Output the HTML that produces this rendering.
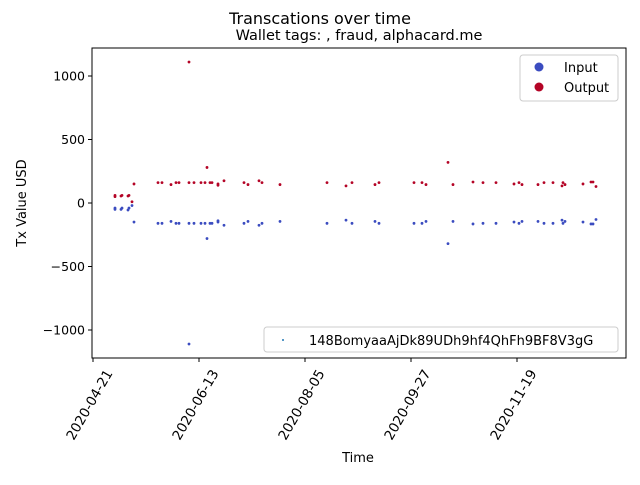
<!DOCTYPE html>
<html><head><meta charset="utf-8"><style>
body{margin:0;background:#fff;}
svg text{font-family:"DejaVu Sans","Liberation Sans",sans-serif;fill:#000;}
</style></head><body>
<svg id="c" width="640" height="480" viewBox="0 0 640 480" xmlns="http://www.w3.org/2000/svg">
<rect width="640" height="480" fill="#fff"/>
<text x="320" y="24" text-anchor="middle" font-size="16">Transcations over time</text>
<text x="359" y="40" text-anchor="middle" font-size="14.5">Wallet tags: , fraud, alphacard.me</text>
<rect x="92" y="48" width="534" height="310" fill="none" stroke="#000" stroke-width="1"/>
<g id="axes"></g>
<g id="marks"></g>
<text x="26" y="203" transform="rotate(-90 26 203)" text-anchor="middle" font-size="13">Tx Value USD</text>
<text x="358" y="462" text-anchor="middle" font-size="13">Time</text>
<g>
<rect x="520" y="55" width="98" height="46" rx="3" fill="#fff" stroke="#ccc"/>
<circle cx="539" cy="67" r="4.5" fill="#3b4cc0"/>
<text x="564" y="72" font-size="13">Input</text>
<circle cx="539" cy="87" r="4.5" fill="#b40426"/>
<text x="564" y="92" font-size="13">Output</text>
</g>
<g>
<rect x="264" y="327" width="354" height="25" rx="3" fill="#fff" stroke="#ccc"/>
<circle cx="283" cy="340" r="1" fill="#1f77b4"/>
<text x="309" y="345" font-size="13">148BomyaaAjDk89UDh9hf4QhFh9BF8V3gG</text>
</g>
</svg>
<script>
// days since 2020-04-21
const outDays=[11,11,14,14.5,17.5,18,19.5,20.5,32.5,34.5,39,41.5,43,48,48,50.5,54,56,57,58.5,59.5,62.5,62.5,65.5,75.5,77.5,83,84.5,93.5,117,126.5,129.5,141,143,160.5,164.5,166.5,177.5,180,190,195,201.5,210.5,213,214.5,222.5,225.5,230,234.5,235,236,245,249,250,251.5];
const outVals=[50,60,55,60,55,60,10,150,160,160,145,160,160,160,1110,160,160,160,280,160,160,140,150,175,160,145,175,160,145,160,135,160,145,160,160,160,145,320,145,165,160,160,150,160,145,145,160,160,135,160,145,150,165,165,130];
const inDays=[11,11,14,14.5,17.5,18,19.5,20.5,32.5,34.5,39,41.5,43,48,48,50.5,54,56,57,58.5,59.5,62.5,62.5,65.5,75.5,77.5,83,84.5,93.5,117,126.5,129.5,141,143,160.5,164.5,166.5,177.5,180,190,195,201.5,210.5,213,214.5,222.5,225.5,230,234.5,235,236,245,249,250,251.5];
const inVals=[-50,-40,-50,-40,-55,-40,-20,-150,-160,-160,-145,-160,-160,-160,-1110,-160,-160,-160,-280,-160,-160,-140,-150,-175,-160,-145,-175,-160,-145,-160,-135,-160,-145,-160,-160,-160,-145,-320,-145,-165,-160,-160,-150,-160,-145,-145,-160,-160,-135,-160,-145,-150,-165,-165,-130];
const yTicks=[-1000,-500,0,500,1000];
const xTickDays=[0,53,106,159,212];
const xTickLabels=["2020-04-21","2020-06-13","2020-08-05","2020-09-27","2020-11-19"];
const NS="http://www.w3.org/2000/svg";
function xs(d){return 93+2*d;}
function ys(v){return 203-v*0.127;}
const axes=document.getElementById('axes'),marks=document.getElementById('marks');
yTicks.forEach(t=>{
 const l=document.createElementNS(NS,'line');
 l.setAttribute('x1',88);l.setAttribute('x2',92);l.setAttribute('y1',ys(t));l.setAttribute('y2',ys(t));l.setAttribute('stroke','#000');
 
 
 axes.appendChild(l);
 const tx=document.createElementNS(NS,'text');
 tx.setAttribute('x',85);tx.setAttribute('y',ys(t)+4.5);tx.setAttribute('text-anchor','end');tx.setAttribute('font-size','12.5');
 tx.textContent=(t<0?'\u2212'+(-t):t);
 
 
 axes.appendChild(tx);
});
xTickDays.forEach((d,i)=>{
 const x=xs(d);
 const ax=x+20, ay=373;
 const l=document.createElementNS(NS,'line');
 l.setAttribute('x1',x);l.setAttribute('x2',x);l.setAttribute('y1',358);l.setAttribute('y2',362);l.setAttribute('stroke','#000');
 
 
 axes.appendChild(l);
 const tx=document.createElementNS(NS,'text');
 tx.setAttribute('x',ax);tx.setAttribute('y',ay);tx.setAttribute('text-anchor','end');tx.setAttribute('font-size','13.5');
 tx.setAttribute('transform','rotate(-60 '+ax+' '+ay+')');
 tx.textContent=xTickLabels[i];
 
 
 axes.appendChild(tx);
});
function pts(days,vals,col,name){
 days.forEach((d,i)=>{
  const c=document.createElementNS(NS,'circle');
  c.setAttribute('cx',xs(d));c.setAttribute('cy',ys(vals[i]));c.setAttribute('r',1.4);c.setAttribute('fill',col);
  
  
  marks.appendChild(c);
 });
}
pts(inDays,inVals,'#3b4cc0','input-point');
pts(outDays,outVals,'#b40426','output-point');
</script>
</body></html>
